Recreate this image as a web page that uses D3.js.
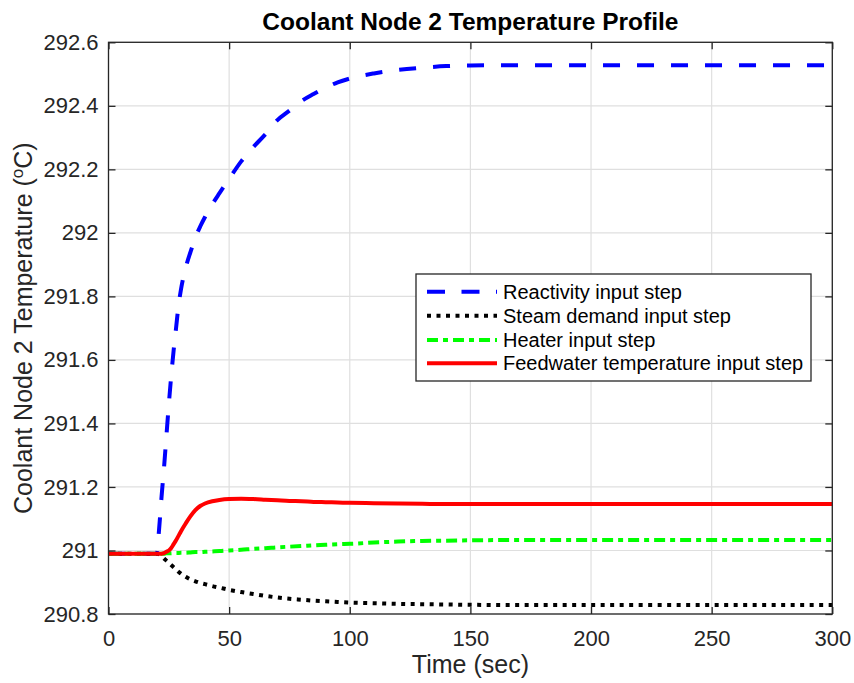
<!DOCTYPE html>
<html>
<head>
<meta charset="utf-8">
<script src="https://cdn.jsdelivr.net/npm/d3@7"></script>
<style>
  html, body { margin: 0; padding: 0; background: #fff; }
  svg { display: block; font-family: "Liberation Sans", Arial, Helvetica, sans-serif; }
</style>
</head>
<body>
<svg id="chart" width="854" height="683"></svg>
<script>
// ---- Data ----
const timeSec = [0, 20, 21, 22, 23, 24, 25, 26, 27, 28, 29, 30, 32, 34, 36, 38, 40, 43, 46, 50, 55, 60, 65, 70, 75, 80, 85, 90, 95, 100, 110, 120, 130, 140, 150, 175, 200, 250, 300];

const reactivityStep = [290.99, 290.99, 291.07, 291.17, 291.26, 291.36, 291.46, 291.55, 291.63, 291.70, 291.77, 291.82, 291.89, 291.94, 291.985, 292.02, 292.05, 292.09, 292.125, 292.17, 292.225, 292.27, 292.31, 292.355, 292.385, 292.415, 292.437, 292.457, 292.474, 292.486, 292.502, 292.513, 292.52, 292.525, 292.527, 292.528, 292.528, 292.528, 292.528];

const steamDemandStep = [290.99, 290.99, 290.988, 290.982, 290.975, 290.968, 290.961, 290.954, 290.947, 290.94, 290.933, 290.927, 290.917, 290.909, 290.903, 290.898, 290.894, 290.888, 290.883, 290.876, 290.869, 290.863, 290.857, 290.852, 290.848, 290.845, 290.842, 290.84, 290.838, 290.836, 290.834, 290.832, 290.831, 290.83, 290.829, 290.828, 290.828, 290.828, 290.828];

const heaterStep = [290.99, 290.99, 290.99, 290.99, 290.99, 290.991, 290.991, 290.991, 290.992, 290.992, 290.992, 290.993, 290.993, 290.994, 290.995, 290.995, 290.996, 290.997, 290.998, 291.0, 291.002, 291.005, 291.007, 291.01, 291.012, 291.014, 291.016, 291.018, 291.02, 291.021, 291.025, 291.028, 291.03, 291.031, 291.032, 291.033, 291.033, 291.033, 291.033];

const feedwaterStep = [290.99, 290.99, 290.99, 290.99, 290.992, 290.996, 291.0, 291.008, 291.02, 291.032, 291.046, 291.06, 291.085, 291.108, 291.127, 291.14, 291.148, 291.155, 291.159, 291.162, 291.163, 291.162, 291.16, 291.158, 291.156, 291.155, 291.153, 291.152, 291.151, 291.15, 291.149, 291.148, 291.147, 291.146, 291.146, 291.146, 291.146, 291.146, 291.146];

const seriesNames = ["Reactivity input step", "Steam demand input step", "Heater input step", "Feedwater temperature input step"];
const xTicks = [0, 50, 100, 150, 200, 250, 300];
const yTicks = [290.8, 291, 291.2, 291.4, 291.6, 291.8, 292, 292.2, 292.4, 292.6];
const yTickLabels = ["290.8", "291", "291.2", "291.4", "291.6", "291.8", "292", "292.2", "292.4", "292.6"];

// ---- Styles ----
const styles = [
  { color: "#0000ff", dash: "17,17" },
  { color: "#000000", dash: "4,5.5" },
  { color: "#00ff00", dash: "11,5,5,5" },
  { color: "#ff0000", dash: null }
];
const seriesValues = [reactivityStep, steamDemandStep, heaterStep, feedwaterStep];

const svg = d3.select("#chart");
const L = 108.5, R = 832.3, T = 42.3, B = 614;
const x = d3.scaleLinear().domain([0, 300]).range([L, R]);
const y = d3.scaleLinear().domain([290.8, 292.6]).range([B, T]);
const axisCol = "#262626";

// grid
const grid = svg.append("g");
grid.selectAll("line.vx").data(xTicks).enter().append("line")
  .attr("x1", d => x(d)).attr("x2", d => x(d)).attr("y1", T).attr("y2", B)
  .attr("stroke", "#dfdfdf").attr("stroke-width", 1.2);
grid.selectAll("line.hy").data(yTicks).enter().append("line")
  .attr("x1", L).attr("x2", R).attr("y1", d => y(d)).attr("y2", d => y(d))
  .attr("stroke", "#dfdfdf").attr("stroke-width", 1.2);

// lines
const line = d3.line().x((d, i) => x(timeSec[i])).y(d => y(d)).curve(d3.curveMonotoneX);
const plot = svg.append("g");
seriesValues.forEach((vals, k) => {
  const p = plot.append("path").datum(vals)
    .attr("d", line).attr("fill", "none")
    .attr("stroke", styles[k].color).attr("stroke-width", 4)
    .attr("stroke-linejoin", "round");
  if (styles[k].dash) p.attr("stroke-dasharray", styles[k].dash);
});

// axes
const tickLen = 7;
const axB = d3.axisBottom(x).tickValues(xTicks).tickSize(-tickLen).tickPadding(16).tickFormat(d3.format("d"));
const axT = d3.axisTop(x).tickValues(xTicks).tickSize(-tickLen).tickFormat("");
const axLft = d3.axisLeft(y).tickValues(yTicks).tickSize(-tickLen).tickPadding(10)
  .tickFormat((d, i) => yTickLabels[i]);
const axRgt = d3.axisRight(y).tickValues(yTicks).tickSize(-tickLen).tickFormat("");

function styleAxis(g) {
  g.select(".domain").attr("stroke", axisCol).attr("stroke-width", 1.3);
  g.selectAll(".tick line").attr("stroke", axisCol).attr("stroke-width", 1.3);
  g.selectAll(".tick text").attr("fill", axisCol).style("font-size", "22px")
    .style("font-family", "'Liberation Sans', Arial, sans-serif");
}
svg.append("g").attr("transform", `translate(0,${B})`).call(axB).call(styleAxis);
svg.append("g").attr("transform", `translate(0,${T})`).call(axT).call(styleAxis);
svg.append("g").attr("transform", `translate(${L},0)`).call(axLft).call(styleAxis);
svg.append("g").attr("transform", `translate(${R},0)`).call(axRgt).call(styleAxis);
svg.selectAll(".domain").attr("d", null);
svg.append("rect").attr("x", L).attr("y", T).attr("width", R - L).attr("height", B - T)
  .attr("fill", "none").attr("stroke", axisCol).attr("stroke-width", 1.3);

// title
svg.append("text").attr("x", (L + R) / 2).attr("y", 30).attr("text-anchor", "middle")
  .style("font-size", "24.5px").style("font-weight", "bold").attr("fill", "#000")
  .text("Coolant Node 2 Temperature Profile");

// x label
svg.append("text").attr("x", (L + R) / 2).attr("y", 673).attr("text-anchor", "middle")
  .style("font-size", "25px").attr("fill", axisCol).text("Time (sec)");

// y label
const yl = svg.append("text").attr("transform", `translate(32,${(T + B) / 2}) rotate(-90)`)
  .attr("text-anchor", "middle").style("font-size", "25px").attr("fill", axisCol);
yl.append("tspan").text("Coolant Node 2 Temperature (");
yl.append("tspan").attr("dy", -9).style("font-size", "17px").text("o");
yl.append("tspan").attr("dy", 9).text("C)");

// legend
const lg = svg.append("g");
const lgX = 416, lgY = 274, lgW = 395, lgH = 107;
lg.append("rect").attr("x", lgX).attr("y", lgY).attr("width", lgW).attr("height", lgH)
  .attr("fill", "#fff").attr("stroke", axisCol).attr("stroke-width", 1.3);
const rowY = [291.7, 315.7, 340, 363.3];
seriesNames.forEach((name, k) => {
  const ln = lg.append("line").attr("x1", 427).attr("x2", 497)
    .attr("y1", rowY[k]).attr("y2", rowY[k])
    .attr("stroke", styles[k].color).attr("stroke-width", 4);
  if (styles[k].dash) ln.attr("stroke-dasharray", k === 0 ? "18,16.5" : styles[k].dash);
  lg.append("text").attr("x", 503).attr("y", rowY[k] + 7)
    .style("font-size", "20px").attr("fill", "#000").text(name);
});
</script>
</body>
</html>
